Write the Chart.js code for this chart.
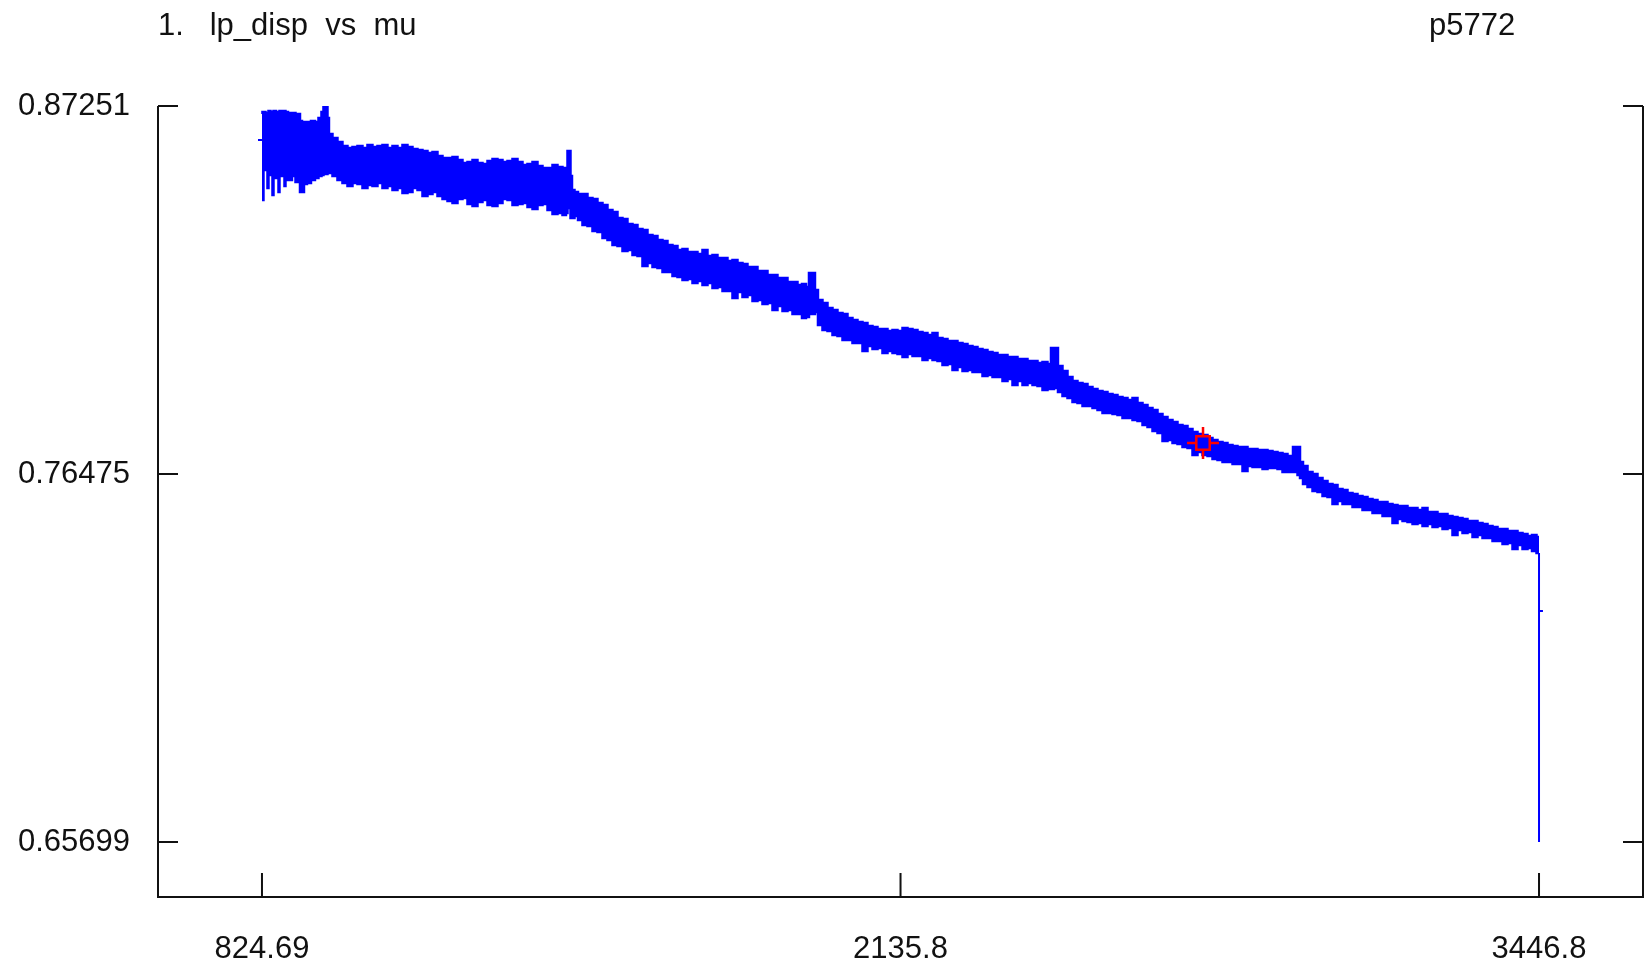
<!DOCTYPE html>
<html>
<head>
<meta charset="utf-8">
<title>lp_disp vs mu</title>
<script src="https://cdn.jsdelivr.net/npm/chart.js@4.4.1/dist/chart.umd.min.js"></script>
<style>
  html, body { margin: 0; padding: 0; background: #fff; }
  canvas { display: block; }
</style>
</head>
<body>
<canvas id="grafico" width="1645" height="966"></canvas>
<script>
// Valores de mu (eje X)
const mu = [
  // bloque inicial
  824.69, 826.7, 828.8, 835.0, 837.0, 839.1, 845.2, 847.3, 849.4, 857.6,
  859.6, 861.7, 869.9, 871.9, 874.0, 882.2, 890.4, 896.6, 900.7, 904.8,
  908.9, 913.0, 921.2, 929.4, 937.6, 943.8, 949.9, 952.0, 958.2, 960.2,
  964.3, 974.6,
  // meseta
  984.8, 995.1, 1005.4, 1015.6, 1025.9, 1036.2, 1046.4, 1056.7, 1067.0, 1077.2,
  1087.5, 1097.8, 1108.0, 1118.3, 1128.6, 1138.9, 1149.1, 1159.4, 1169.7, 1179.9,
  1190.2, 1200.5, 1210.7, 1221.0, 1231.3, 1241.5, 1251.8, 1262.1, 1272.3, 1282.6,
  1292.9, 1303.1, 1313.4, 1323.7, 1333.9, 1344.2, 1354.5, 1364.7, 1375.0, 1385.3,
  1395.5, 1405.8, 1416.1, 1426.3, 1436.6,
  // pico 1
  1446.8, 1451.0, 1453.0, 1457.1, 1459.2, 1463.3, 1469.5, 1477.6,
  1487.9, 1498.2, 1508.4, 1518.7, 1529.0, 1539.2, 1549.5, 1559.8, 1570.0, 1580.3,
  1590.6, 1600.8, 1611.1, 1621.4, 1631.6, 1641.9, 1652.2, 1662.4, 1672.7, 1683.0,
  1693.2, 1703.5, 1713.8, 1724.0, 1734.3, 1744.6, 1754.8, 1765.1, 1775.4, 1785.6,
  1795.9, 1806.2, 1816.4, 1826.7, 1837.0, 1847.2, 1857.5, 1867.8, 1878.0, 1888.3,
  1898.6, 1908.8, 1919.1, 1929.4, 1937.6, 1945.8,
  // pico 2
  1949.9, 1958.1,
  1962.2, 1970.4, 1980.7, 1991.0, 2001.2, 2011.5, 2021.8, 2032.0, 2042.3, 2052.6,
  2062.8, 2073.1, 2083.4, 2093.6, 2103.9, 2114.2, 2124.4, 2134.7, 2145.0, 2155.2,
  2165.5, 2175.8, 2186.0, 2196.3, 2206.6, 2216.8, 2227.1, 2237.4, 2247.6, 2257.9,
  2268.2, 2278.4, 2288.7, 2299.0, 2309.2, 2319.5, 2329.8, 2340.0, 2350.3, 2360.6,
  2370.8, 2381.1, 2391.4, 2401.6, 2411.9, 2422.2, 2432.4, 2442.7,
  // pico 3
  2446.8, 2455.0,
  2463.2, 2473.5, 2483.8, 2494.0, 2504.3, 2514.6, 2524.8, 2535.1, 2545.4, 2555.6,
  2565.9, 2576.2, 2586.4, 2596.7, 2607.0, 2617.2, 2627.5, 2637.8, 2648.0, 2658.3,
  2668.6, 2678.8, 2689.1, 2699.4, 2709.6, 2719.9, 2730.2, 2740.4, 2750.7, 2761.0,
  2771.2, 2781.5, 2791.8, 2802.0, 2812.3, 2822.6, 2832.8, 2843.1, 2853.4, 2863.6,
  2873.9, 2884.2, 2894.4, 2904.7, 2915.0, 2925.2, 2935.5,
  // pico 4
  2947.8, 2954.0, 2958.1,
  2966.3, 2976.6, 2986.8, 2997.1, 3007.4, 3017.6, 3027.9, 3038.2, 3048.4, 3058.7,
  3069.0, 3079.2, 3089.5, 3099.8, 3110.0, 3120.3, 3130.6, 3140.8, 3151.1, 3161.4,
  3171.6, 3181.9, 3192.2, 3202.4, 3212.7, 3223.0, 3233.2, 3243.5, 3253.8, 3264.0,
  3274.3, 3284.6, 3294.8, 3305.1, 3315.4, 3325.6, 3335.9, 3346.2, 3356.4, 3366.7,
  3377.0, 3387.2, 3397.5, 3407.8, 3418.0, 3428.3, 3436.5, 3446.8
];

// Borde superior de la banda de lp_disp
const lpSup = [
  0.87017, 0.87075, 0.87075, 0.87046, 0.87046, 0.87105, 0.87075, 0.87075, 0.87105, 0.87075,
  0.87075, 0.87105, 0.87075, 0.87105, 0.87075, 0.87046, 0.87046, 0.86987, 0.87017, 0.86812,
  0.86782, 0.86782, 0.86782, 0.86812, 0.86782, 0.86900, 0.87075, 0.87251, 0.87251, 0.86900,
  0.86431, 0.86314,

  0.86197, 0.86080, 0.86021, 0.86050, 0.86080, 0.86021, 0.86109, 0.86050, 0.86080, 0.86109,
  0.86021, 0.86080, 0.86021, 0.86109, 0.86050, 0.85992, 0.85963, 0.85933, 0.85875, 0.85904,
  0.85787, 0.85728, 0.85728, 0.85758, 0.85670, 0.85582, 0.85611, 0.85670, 0.85582, 0.85553,
  0.85640, 0.85699, 0.85670, 0.85611, 0.85640, 0.85699, 0.85611, 0.85523, 0.85553, 0.85611,
  0.85494, 0.85435, 0.85435, 0.85523, 0.85465,

  0.85435, 0.85435, 0.85933, 0.85933, 0.85201, 0.84791, 0.84733, 0.84674,
  0.84674, 0.84557, 0.84527, 0.84410, 0.84352, 0.84206, 0.84147, 0.83971, 0.83942, 0.83796,
  0.83766, 0.83649, 0.83620, 0.83474, 0.83444, 0.83327, 0.83298, 0.83181, 0.83152, 0.83034,
  0.83064, 0.82976, 0.82976, 0.82917, 0.83034, 0.82859, 0.82888, 0.82800, 0.82800, 0.82712,
  0.82741, 0.82654, 0.82624, 0.82537, 0.82537, 0.82419, 0.82419, 0.82302, 0.82302, 0.82214,
  0.82214, 0.82097, 0.82097, 0.82009, 0.82039, 0.81951,

  0.82361, 0.82361,
  0.81863, 0.81570, 0.81482, 0.81336, 0.81277, 0.81190, 0.81160, 0.81043, 0.80984, 0.80926,
  0.80897, 0.80809, 0.80780, 0.80721, 0.80721, 0.80662, 0.80692, 0.80662, 0.80750, 0.80721,
  0.80692, 0.80633, 0.80604, 0.80545, 0.80604, 0.80457, 0.80428, 0.80369, 0.80369, 0.80311,
  0.80282, 0.80223, 0.80194, 0.80135, 0.80106, 0.80047, 0.80018, 0.79959, 0.79959, 0.79901,
  0.79901, 0.79842, 0.79842, 0.79784, 0.79784, 0.79725, 0.79755, 0.79696,

  0.80164, 0.80164,
  0.79637, 0.79491, 0.79315, 0.79198, 0.79139, 0.79110, 0.79022, 0.78964, 0.78905, 0.78876,
  0.78817, 0.78788, 0.78729, 0.78700, 0.78641, 0.78700, 0.78554, 0.78495, 0.78407, 0.78349,
  0.78232, 0.78144, 0.78056, 0.77998, 0.77910, 0.77880, 0.77793, 0.77705, 0.77646, 0.77617,
  0.77529, 0.77470, 0.77412, 0.77382, 0.77324, 0.77295, 0.77265, 0.77265, 0.77207, 0.77207,
  0.77178, 0.77178, 0.77148, 0.77119, 0.77090, 0.77061, 0.77002,

  0.77265, 0.77265, 0.76826,
  0.76709, 0.76533, 0.76475, 0.76357, 0.76270, 0.76182, 0.76153, 0.76036, 0.76006, 0.75919,
  0.75889, 0.75831, 0.75802, 0.75743, 0.75713, 0.75655, 0.75655, 0.75597, 0.75567, 0.75538,
  0.75538, 0.75479, 0.75479, 0.75421, 0.75479, 0.75362, 0.75362, 0.75303, 0.75303, 0.75245,
  0.75216, 0.75186, 0.75157, 0.75099, 0.75099, 0.75040, 0.75011, 0.74952, 0.74923, 0.74864,
  0.74864, 0.74806, 0.74806, 0.74747, 0.74718, 0.74659, 0.74689, 0.74630
];

// Borde inferior de la banda de lp_disp
const lpInf = [
  0.84498, 0.84498, 0.85435, 0.85377, 0.84849, 0.85377, 0.85230, 0.84645, 0.85230, 0.85142,
  0.84732, 0.85201, 0.85230, 0.84908, 0.85230, 0.85084, 0.85201, 0.85025, 0.85142, 0.84732,
  0.84732, 0.84967, 0.84996, 0.85084, 0.85142, 0.85201, 0.85230, 0.85260, 0.85260, 0.85289,
  0.85289, 0.85201,

  0.85084, 0.84996, 0.84908, 0.84996, 0.84967, 0.84849, 0.84937, 0.84908, 0.84996, 0.84849,
  0.84908, 0.84791, 0.84849, 0.84703, 0.84732, 0.84849, 0.84791, 0.84615, 0.84674, 0.84732,
  0.84615, 0.84527, 0.84469, 0.84410, 0.84527, 0.84557, 0.84381, 0.84323, 0.84440, 0.84498,
  0.84352, 0.84323, 0.84410, 0.84527, 0.84498, 0.84352, 0.84381, 0.84410, 0.84293, 0.84235,
  0.84352, 0.84381, 0.84206, 0.84088, 0.84118,

  0.84059, 0.84118, 0.84264, 0.84264, 0.83971, 0.83971, 0.84030, 0.83913,
  0.83766, 0.83737, 0.83591, 0.83561, 0.83386, 0.83327, 0.83181, 0.83152, 0.83005, 0.83034,
  0.82888, 0.82859, 0.82566, 0.82654, 0.82537, 0.82507, 0.82390, 0.82390, 0.82273, 0.82244,
  0.82156, 0.82185, 0.82068, 0.82127, 0.82009, 0.82068, 0.81921, 0.81951, 0.81834, 0.81834,
  0.81629, 0.81805, 0.81658, 0.81717, 0.81541, 0.81570, 0.81453, 0.81482, 0.81277, 0.81394,
  0.81248, 0.81277, 0.81160, 0.81160, 0.81043, 0.81072,

  0.81160, 0.81160,
  0.81219, 0.80838, 0.80692, 0.80662, 0.80545, 0.80516, 0.80399, 0.80399, 0.80311, 0.80311,
  0.80076, 0.80223, 0.80135, 0.80164, 0.80018, 0.80076, 0.80018, 0.79989, 0.79901, 0.79989,
  0.79930, 0.79930, 0.79813, 0.79871, 0.79813, 0.79784, 0.79667, 0.79696, 0.79520, 0.79608,
  0.79491, 0.79520, 0.79461, 0.79461, 0.79345, 0.79373, 0.79315, 0.79315, 0.79198, 0.79256,
  0.79081, 0.79198, 0.79081, 0.79139, 0.79081, 0.79052, 0.78935, 0.78964,

  0.78964, 0.78993,
  0.78876, 0.78759, 0.78700, 0.78583, 0.78554, 0.78466, 0.78466, 0.78407, 0.78349, 0.78261,
  0.78261, 0.78232, 0.78203, 0.78115, 0.78115, 0.78056, 0.78027, 0.77910, 0.77851, 0.77734,
  0.77675, 0.77441, 0.77470, 0.77382, 0.77353, 0.77265, 0.77236, 0.77031, 0.77119, 0.77031,
  0.77002, 0.76914, 0.76885, 0.76826, 0.76826, 0.76768, 0.76768, 0.76563, 0.76709, 0.76680,
  0.76680, 0.76621, 0.76651, 0.76651, 0.76621, 0.76533, 0.76533,

  0.76533, 0.76445, 0.76357,
  0.76182, 0.76094, 0.75977, 0.75948, 0.75831, 0.75802, 0.75597, 0.75684, 0.75597, 0.75597,
  0.75509, 0.75509, 0.75421, 0.75421, 0.75333, 0.75333, 0.75245, 0.75245, 0.75040, 0.75157,
  0.75099, 0.75069, 0.75011, 0.75040, 0.74952, 0.75011, 0.74923, 0.74952, 0.74864, 0.74894,
  0.74689, 0.74835, 0.74747, 0.74776, 0.74630, 0.74689, 0.74601, 0.74601, 0.74513, 0.74513,
  0.74425, 0.74454, 0.74279, 0.74396, 0.74279, 0.74308, 0.74220, 0.74161
];

// Caida final y pequeñas marcas sueltas
const caidaMu = [3446.8, 3446.8];
const caidaLp = [0.74161, 0.65699];
const marcaIniMu = [816.5, 824.69];
const marcaIniLp = [0.86255, 0.86255];
const marcaFinMu = [3446.8, 3454.9];
const marcaFinLp = [0.72463, 0.72463];

// Punto actual (cursor rojo)
const cursorMu = [2756.9];
const cursorLp = [0.77382];

// Marcas de los ejes
const xTicks = [824.69, 2135.8, 3446.8];
const xTickLabels = ['824.69', '2135.8', '3446.8'];
const yTicks = [0.65699, 0.76475, 0.87251];
const yTickLabels = ['0.65699', '0.76475', '0.87251'];

const titulo = '1.   lp_disp  vs  mu';
const etiquetaDerecha = 'p5772';

const AZUL = '#0000ff';
const ROJO = '#ff0000';
const TINTA = '#111111';
const FUENTE = '"Liberation Sans", Arial, Helvetica, sans-serif';

function puntos(xs, ys) {
    return xs.map((x, i) => ({ x: x, y: ys[i] }));
}

// Marco de tres lados con marcas hacia dentro
const marcoEjes = {
    id: 'marcoEjes',
    afterDraw(chart) {
        const { ctx, chartArea: a, scales } = chart;
        ctx.save();
        ctx.strokeStyle = TINTA;
        ctx.lineWidth = 2;
        ctx.beginPath();
        ctx.moveTo(a.left, a.top);
        ctx.lineTo(a.left, a.bottom);
        ctx.lineTo(a.right, a.bottom);
        ctx.lineTo(a.right, a.top);
        scales.y.ticks.forEach(t => {
            const py = scales.y.getPixelForValue(t.value);
            ctx.moveTo(a.left, py);
            ctx.lineTo(a.left + 20, py);
            ctx.moveTo(a.right, py);
            ctx.lineTo(a.right - 20, py);
        });
        scales.x.ticks.forEach(t => {
            const px = scales.x.getPixelForValue(t.value);
            ctx.moveTo(px, a.bottom);
            ctx.lineTo(px, a.bottom - 24);
        });
        ctx.stroke();

        // Titulo y etiqueta de la parte superior
        ctx.fillStyle = TINTA;
        ctx.font = '31px ' + FUENTE;
        ctx.textBaseline = 'alphabetic';
        ctx.textAlign = 'left';
        ctx.fillText(titulo, 158, 35);
        ctx.fillText(etiquetaDerecha, 1429, 35);
        ctx.restore();
    }
};

function crearGrafico() {
    const ctx = document.getElementById('grafico').getContext('2d');

    new Chart(ctx, {
        type: 'line',
        data: {
            datasets: [
                {
                    // cuadrado del cursor
                    data: puntos(cursorMu, cursorLp),
                    showLine: false,
                    pointStyle: 'rect',
                    pointRadius: 9.5,
                    pointBorderWidth: 2.5,
                    pointBorderColor: ROJO,
                    pointBackgroundColor: AZUL
                },
                {
                    // cruz del cursor
                    data: puntos(cursorMu, cursorLp),
                    showLine: false,
                    pointStyle: 'cross',
                    pointRadius: 16,
                    pointBorderWidth: 2.5,
                    pointBorderColor: ROJO
                },
                {
                    data: puntos(caidaMu, caidaLp),
                    borderColor: AZUL,
                    borderWidth: 2,
                    pointRadius: 0
                },
                {
                    data: puntos(marcaIniMu, marcaIniLp),
                    borderColor: AZUL,
                    borderWidth: 2,
                    pointRadius: 0
                },
                {
                    data: puntos(marcaFinMu, marcaFinLp),
                    borderColor: AZUL,
                    borderWidth: 2,
                    pointRadius: 0
                },
                {
                    label: 'lp_disp',
                    data: puntos(mu, lpSup),
                    borderColor: AZUL,
                    backgroundColor: AZUL,
                    borderWidth: 2.5,
                    pointRadius: 0,
                    stepped: 'middle',
                    fill: '+1'
                },
                {
                    data: puntos(mu, lpInf),
                    borderColor: AZUL,
                    backgroundColor: AZUL,
                    borderWidth: 2.5,
                    pointRadius: 0,
                    stepped: 'middle',
                    fill: false
                }
            ]
        },
        options: {
            responsive: false,
            animation: false,
            devicePixelRatio: 1,
            events: [],
            layout: { autoPadding: false, padding: { top: 106, right: 2, bottom: 0, left: 0 } },
            elements: { line: { tension: 0 } },
            plugins: {
                legend: { display: false },
                tooltip: { enabled: false }
            },
            scales: {
                x: {
                    type: 'linear',
                    min: 611.2,
                    max: 3660.3,
                    grid: { display: false, drawTicks: false },
                    border: { display: false },
                    afterBuildTicks: s => { s.ticks = xTicks.map(v => ({ value: v })); },
                    afterFit: s => { s.height = 69; s.paddingLeft = 0; s.paddingRight = 0; },
                    ticks: {
                        padding: 34,
                        autoSkip: false,
                        maxRotation: 0,
                        color: TINTA,
                        font: { family: FUENTE, size: 31 },
                        callback: (v, i) => xTickLabels[i]
                    }
                },
                y: {
                    type: 'linear',
                    min: 0.64088,
                    max: 0.87251,
                    grid: { display: false, drawTicks: false },
                    border: { display: false },
                    afterBuildTicks: s => { s.ticks = yTicks.map(v => ({ value: v })); },
                    afterFit: s => { s.width = 158; s.paddingTop = 0; s.paddingBottom = 0; },
                    ticks: {
                        padding: 28,
                        autoSkip: false,
                        color: TINTA,
                        font: { family: FUENTE, size: 31 },
                        callback: (v, i) => yTickLabels[i]
                    }
                }
            }
        },
        plugins: [marcoEjes]
    });
}

crearGrafico();
</script>
</body>
</html>
